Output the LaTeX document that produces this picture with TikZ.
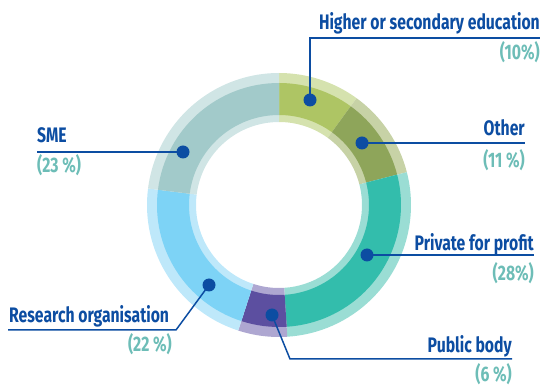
\documentclass[tikz,border=0pt]{standalone}
\usepackage{fontspec}
\setmainfont[FakeStretch=0.75]{Fira Sans}
\usetikzlibrary{positioning, calc}

\definecolor{leadblue}{RGB}{12,77,162}
\definecolor{shareteal}{RGB}{109,189,183}
\definecolor{higherM}{RGB}{174,197,100}   \definecolor{higherL}{RGB}{213,226,174}
\definecolor{otherM}{RGB}{142,165,90}     \definecolor{otherL}{RGB}{199,210,166}
\definecolor{privateM}{RGB}{51,189,172}   \definecolor{privateL}{RGB}{154,221,212}
\definecolor{publicM}{RGB}{92,79,160}     \definecolor{publicL}{RGB}{174,167,209}
\definecolor{researchM}{RGB}{125,211,246} \definecolor{researchL}{RGB}{190,232,250}
\definecolor{smeM}{RGB}{162,202,202}      \definecolor{smeL}{RGB}{208,229,229}

\begin{document}
\begin{tikzpicture}[x=1pt, y=1pt,
		dot/.style={circle, fill=leadblue, inner sep=0pt, minimum size=13pt},
		title/.style={text=leadblue, font=\fontsize{21}{24}\selectfont\bfseries, inner sep=0pt},
		share/.style={text=shareteal, font=\fontsize{21}{24}\selectfont\bfseries, inner sep=0pt},
		lead/.style={draw=leadblue, line width=1.5pt}]
		\useasboundingbox (0,0) rectangle (541,388);
		\coordinate (c) at (279,183);
		% ring: light band, then the darker band on top
		\foreach \a/\b/\lc/\mc in {90/54/higherL/higherM, 54/14.4/otherL/otherM, 14.4/-86.4/privateL/privateM,
				-86.4/-108/publicL/publicM, -108/-187.2/researchL/researchM, -187.2/-270/smeL/smeM}{
			\fill[\lc, shift={(c)}] (\a:132) arc[start angle=\a, end angle=\b, radius=132] -- (\b:83) arc[start angle=\b, end angle=\a, radius=83] -- cycle;
			\fill[\mc, shift={(c)}] (\a:122) arc[start angle=\a, end angle=\b, radius=122] -- (\b:90) arc[start angle=\b, end angle=\a, radius=90] -- cycle;
		}
		% dots
		\node[dot] (higher)   at (310,288) {};
		\node[dot] (other)    at (362,245) {};
		\node[dot] (private)  at (367,133) {};
		\node[dot] (public)   at (272,73)  {};
		\node[dot] (research) at (209,103) {};
		\node[dot] (sme)      at (183,236) {};
		% leader ends
		\coordinate (higherbend)   at (310,350); \coordinate (higherend)   at (540,350);
		\coordinate (otherend)     at (525,245);
		\coordinate (privateend)   at (534,133);
		\coordinate (publicbend)   at (290,29);  \coordinate (publicend)   at (512,29);
		\coordinate (researchbend) at (176,58);  \coordinate (researchend) at (8,58);
		\coordinate (smeend)       at (37,236);
		\foreach \from/\bend/\to in {higher/higherbend/higherend, other/otherend/otherend, private/privateend/privateend,
				public/publicbend/publicend, research/researchbend/researchend, sme/smeend/smeend}
			\draw[lead] (\from.center) -- (\bend) -- (\to);
		% labels
		\node[title, anchor=base east] (highertitle) at ($(higherend)+(0,8)$) {Higher or secondary education};
		\node[share, anchor=base east] (highershare) at ($(higherend)+(0,-22)$) {(10\%)};
		\node[title, anchor=base east] (othertitle) at ($(otherend)+(0,7)$) {Other};
		\node[share, anchor=base east] (othershare) at ($(otherend)+(0,-25)$) {(11 \%)};
		\node[title, anchor=base east] (privatetitle) at ($(privateend)+(0,4)$) {Private for profit};
		\node[share, anchor=base east] (privateshare) at ($(privateend)+(0,-26)$) {(28\%)};
		\node[title, anchor=base east] (publictitle) at ($(publicend)+(0,6)$) {Public body};
		\node[share, anchor=base east] (publicshare) at ($(publicend)+(0,-23)$) {(6 \%)};
		\node[title, anchor=base west] (researchtitle) at ($(researchend)+(1,7)$) {Research organisation};
		\node[share, anchor=base east] (researchshare) at ($(researchbend)+(-4,-22)$) {(22 \%)};
		\node[title, anchor=base west] (smetitle) at ($(smeend)+(0,9)$) {SME};
		\node[share, anchor=base west] (smeshare) at ($(smeend)+(0,-21)$) {(23 \%)};
	\end{tikzpicture}
\end{document}
